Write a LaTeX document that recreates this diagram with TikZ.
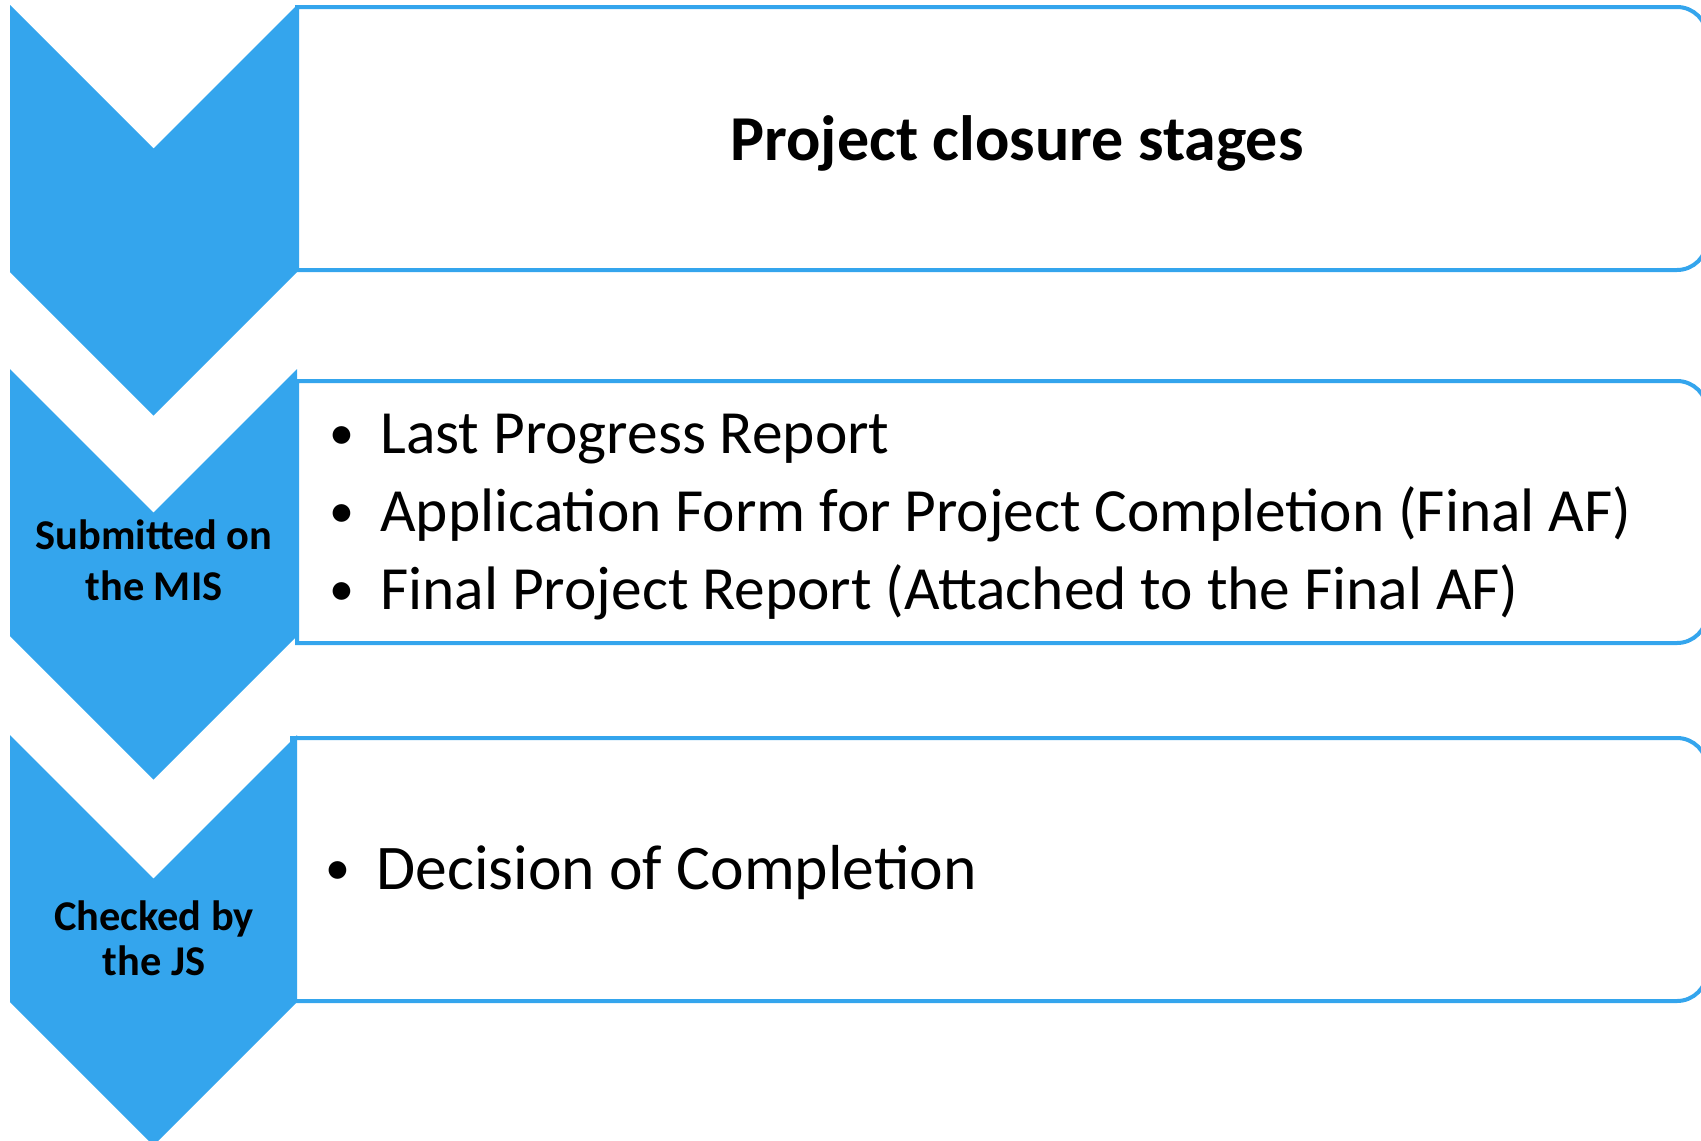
\documentclass[tikz,border=0pt]{standalone}
\usepackage{fontspec}
\setmainfont{Carlito}
\usetikzlibrary{positioning}
\definecolor{chevblue}{RGB}{52,165,237}
\tikzset{
	chevron/.style={fill=chevblue, draw=none}, % the blue arrow on the left
	stagebox/.style={draw=chevblue, line width=2pt, fill=white},
	titletext/.style={anchor=base, inner sep=0pt, font=\fontsize{32}{38}\selectfont\bfseries},
	steptext/.style={anchor=base, inner sep=0pt, font=\fontsize{21.2}{25}\selectfont\bfseries},
	itemtext/.style={anchor=base west, inner sep=0pt, font=\fontsize{30.7}{36}\selectfont},
	dot/.style={anchor=base, inner sep=0pt, font=\fontsize{25}{30}\selectfont}
}
% one chevron, #1 is the y of its top corners
\newcommand{\stagechevron}[1]{%
	\fill[chevron] (10,#1) -- (153.5,#1+143.5) -- (297,#1) -- (297,#1+267)
		-- (153.5,#1+410.5) -- (10,#1+267) -- cycle;}
% box with the right corners rounded: #1 left x, #2 top y, #3 bottom y
\newcommand{\closurebox}[3]{%
	\draw[stagebox] (#1,#2) -- (1677,#2) arc[start angle=90, end angle=0, radius=15pt]
		-- (1707,#3-30) arc[start angle=0, end angle=-90, radius=15pt] -- (#1,#3) -- cycle;}

\begin{document}
\begin{tikzpicture}[x=0.5pt, y=-0.5pt]
	\useasboundingbox (0,0) rectangle (1701,1140);
	\clip (0,0) rectangle (1701,1140);
	\closurebox{297}{7}{270}
	\closurebox{297}{381}{643}
	\closurebox{292}{738}{1001}
	\stagechevron{5}
	\stagechevron{369}
	\stagechevron{735}

	\node[titletext] (title) at (1017,160) {Project closure stages};

	\node[steptext] (mis1) at (154,549) {Submitted on};
	\node[steptext] (mis2) at (154,600) {the MIS};
	\node[steptext] (js1) at (154,930) {Checked by};
	\node[steptext] (js2) at (154,975) {the JS};

	\node[dot] (b1) at (342,449) {•};
	\node[itemtext] (i1) at (380,453) {Last Progress Report};
	\node[dot] (b2) at (342,527) {•};
	\node[itemtext] (i2) at (380,531) {Application Form for Project Completion (Final AF)};
	\node[dot] (b3) at (342,605) {•};
	\node[itemtext] (i3) at (380,609) {Final Project Report (Attached to the Final AF)};
	\node[dot] (b4) at (338,884) {•};
	\node[itemtext, font=\fontsize{31.8}{38}\selectfont] (i4) at (376,889) {Decision of Completion};
\end{tikzpicture}
\end{document}
